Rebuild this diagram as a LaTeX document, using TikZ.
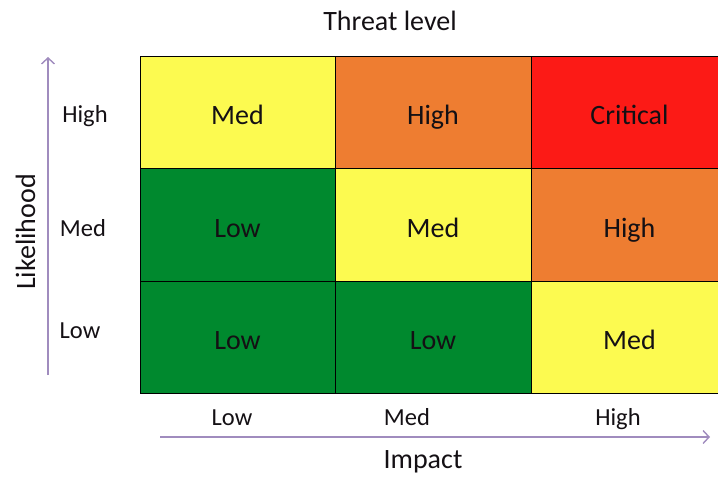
\documentclass[tikz,border=0pt]{standalone}
\usepackage{fontspec}
\setmainfont{Carlito}
\usetikzlibrary{arrows.meta}
\definecolor{cyel}{RGB}{252,250,80}
\definecolor{corg}{RGB}{238,125,49}
\definecolor{cred}{RGB}{252,26,22}
\definecolor{cgrn}{RGB}{0,137,46}
\definecolor{axis}{RGB}{160,140,190}
\definecolor{ink}{RGB}{20,16,20}
\tikzset{
  cell/.style={rectangle, draw=black, line width=0.9pt, inner sep=0pt, outer sep=0pt,
    text=ink, font=\fontsize{28}{30}\selectfont, anchor=north west,
    text height=25pt, text depth=0pt},
  lab/.style={text=ink, font=\fontsize{24.5}{26}\selectfont, inner sep=0pt, anchor=base},
  ttl/.style={text=ink, font=\fontsize{28}{30}\selectfont, inner sep=0pt, anchor=base},
  axarrow/.style={draw=axis, line width=1.4pt, -{Straight Barb[length=6pt,width=13pt,line width=1.4pt]}}
}
\begin{document}
\begin{tikzpicture}[x=1pt,y=-1pt]
\useasboundingbox (0,0) rectangle (718,477);
% row 1 (High likelihood)
\node[cell, fill=cyel, minimum width=195pt, minimum height=112pt] (c11) at (140,56) {Med};
\node[cell, fill=corg, minimum width=196pt, minimum height=112pt] (c12) at (335,56) {High};
\node[cell, fill=cred, minimum width=197pt, minimum height=112pt] (c13) at (531,56) {Critical};
% row 2
\node[cell, fill=cgrn, minimum width=195pt, minimum height=113pt] (c21) at (140,168) {Low};
\node[cell, fill=cyel, minimum width=196pt, minimum height=113pt] (c22) at (335,168) {Med};
\node[cell, fill=corg, minimum width=197pt, minimum height=113pt] (c23) at (531,168) {High};
% row 3
\node[cell, fill=cgrn, minimum width=195pt, minimum height=112pt] (c31) at (140,281) {Low};
\node[cell, fill=cgrn, minimum width=196pt, minimum height=112pt] (c32) at (335,281) {Low};
\node[cell, fill=cyel, minimum width=197pt, minimum height=112pt] (c33) at (531,281) {Med};
% titles
\node[ttl] (title) at (390,30) {Threat level};
\node[ttl] (impact) at (423,468) {Impact};
\node[ttl, rotate=90] (likeli) at (35,232) {Likelihood};
% row labels
\node[lab] (rH) at (85,122) {High};
\node[lab] (rM) at (83,236) {Med};
\node[lab] (rL) at (80,338) {Low};
% column labels
\node[lab] (kL) at (232,425) {Low};
\node[lab] (kM) at (407,425) {Med};
\node[lab] (kH) at (618,425) {High};
% axes
\coordinate (vs) at (48,375);
\coordinate (ve) at (48,57);
\coordinate (hs) at (160,437);
\coordinate (he) at (710,437);
\draw[axarrow] (vs) -- (ve);
\draw[axarrow] (hs) -- (he);
\end{tikzpicture}
\end{document}
